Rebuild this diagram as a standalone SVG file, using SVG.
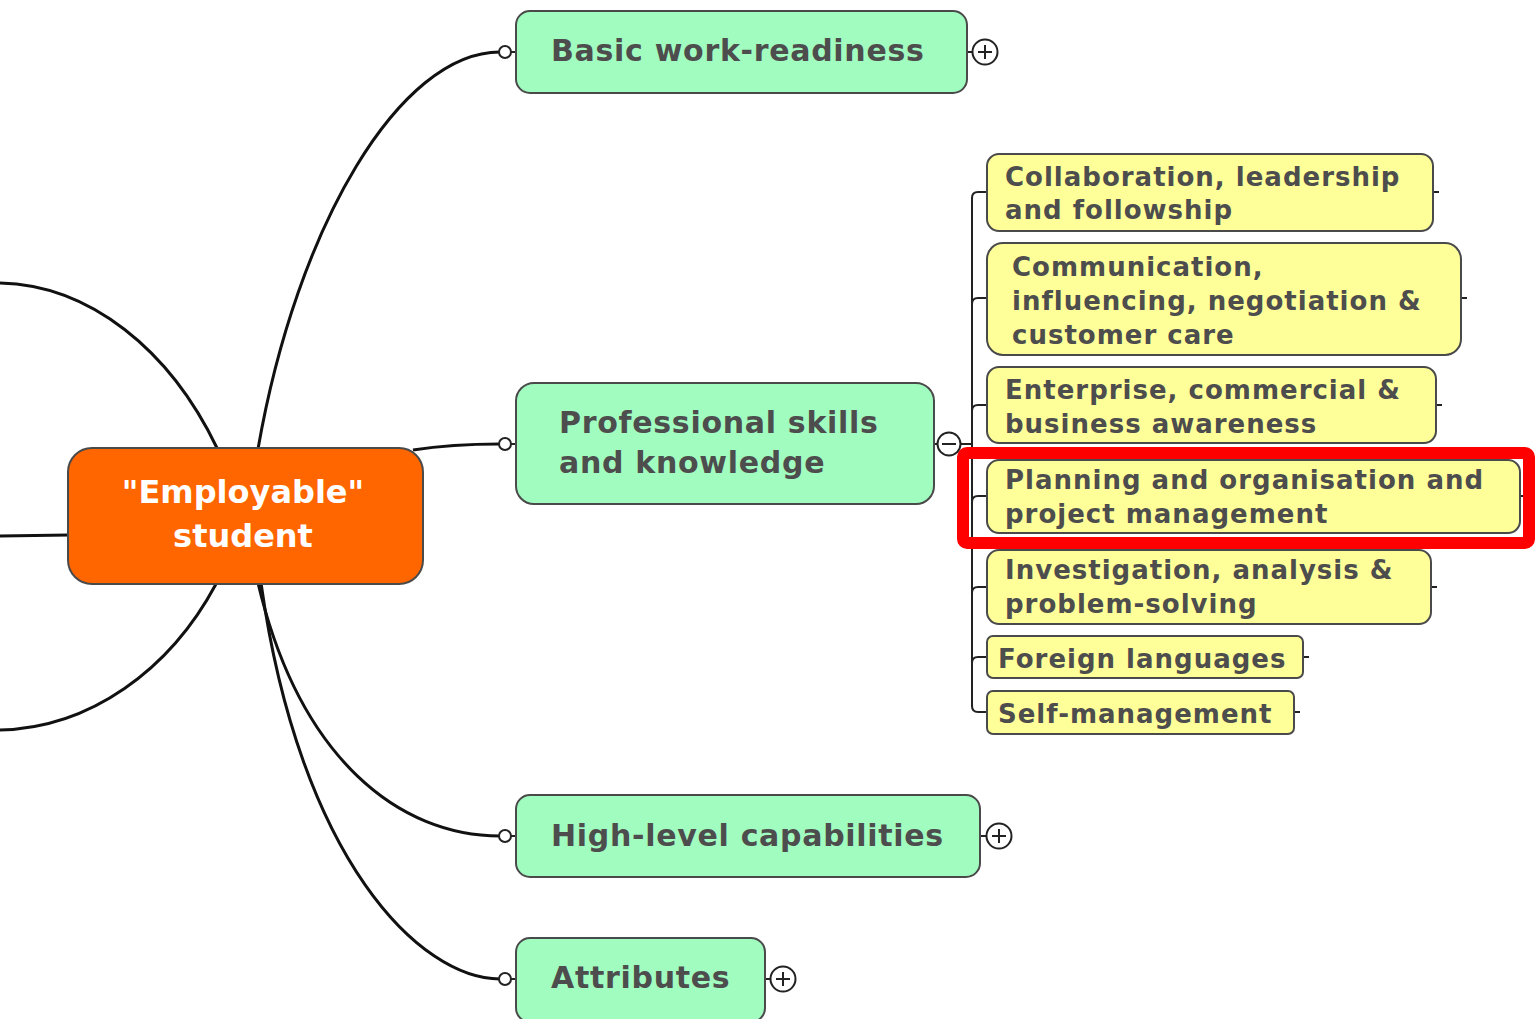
<svg xmlns="http://www.w3.org/2000/svg" width="1536" height="1019" viewBox="0 0 1536 1019">
<style>
.t{font-family:"DejaVu Sans","Verdana",sans-serif;font-weight:bold;fill:#4d4d4d}
.g{fill:#a1fcc0;stroke:#4a4a4a;stroke-width:2}
.y{fill:#ffff99;stroke:#4a4a4a;stroke-width:2}
.gt{font-size:30px;letter-spacing:0.7px}
.yt{font-size:26px;letter-spacing:1px}
.c{fill:none;stroke:#111;stroke-width:3}
.thin{fill:none;stroke:#222;stroke-width:2}
.o{fill:#fff;stroke:#222;stroke-width:2}
</style>
<rect width="1536" height="1019" fill="#fff"/>
<g id="connectors">
<path class="c" d="M258,449 C297,225 400,52 500,52"/>
<path class="c" d="M413,450 C445,445 470,444 500,444"/>
<path class="c" d="M258,583 C300,760 400,836 500,836"/>
<path class="c" d="M261,583 C300,860 420,979 500,979"/>
<path class="c" d="M217,448 C170,350 90,285 0,283"/>
<path class="c" d="M69,535 L0,536"/>
<path class="c" d="M216,584 C170,670 90,728 0,730"/>
<path class="thin" d="M510,52 H516 M510,444 H516 M510,836 H516 M510,979 H516"/>
<path class="thin" d="M967,52 H973 M980,836 H987 M765,979 H771"/>
<path class="thin" d="M934,444 H938 M960,444 H972"/>
<path class="thin" d="M972,197 V707"/>
<path class="thin" d="M972,198 Q972,192 978,192 H987 M972,304 Q972,298 978,298 H987 M972,411 Q972,405 978,405 H987 M972,502 Q972,496 978,496 H987 M972,593 Q972,587 978,587 H987 M972,663 Q972,657 978,657 H987 M972,706 Q972,712 978,712 H987"/>
<path class="thin" d="M1433,192 H1439 M1461,298 H1467 M1436,405 H1442 M1520,496 H1526 M1431,587 H1437 M1303,657 H1309 M1294,712 H1300"/>
<circle class="o" cx="505" cy="52" r="6"/>
<circle class="o" cx="505" cy="444" r="6"/>
<circle class="o" cx="505" cy="836" r="6"/>
<circle class="o" cx="505" cy="979" r="6"/>
</g>
<g id="central">
<rect x="68" y="448" width="355" height="136" rx="24" fill="#ff6600" stroke="#4a4a4a" stroke-width="2"/>
<text class="t" x="243" y="503" text-anchor="middle" font-size="32" style="fill:#fff">"Employable"</text>
<text class="t" x="243" y="547" text-anchor="middle" font-size="32" style="fill:#fff">student</text>
</g>
<g id="basic">
<rect class="g" x="516" y="11" width="451" height="82" rx="14"/>
<text class="t gt" x="551" y="61">Basic work-readiness</text>
<circle class="o" cx="985" cy="52" r="12.5"/>
<path class="thin" d="M978,52 H992 M985,45 V59"/>
</g>
<g id="professional">
<rect class="g" x="516" y="383" width="418" height="121" rx="18"/>
<text class="t gt" x="559" y="433">Professional skills</text>
<text class="t gt" x="559" y="473">and knowledge</text>
<circle class="o" cx="949" cy="444" r="11.5"/>
<path class="thin" d="M942,444 H956"/>
</g>
<g id="high">
<rect class="g" x="516" y="795" width="464" height="82" rx="14"/>
<text class="t gt" x="551" y="846">High-level capabilities</text>
<circle class="o" cx="999" cy="836" r="12.5"/>
<path class="thin" d="M992,836 H1006 M999,829 V843"/>
</g>
<g id="attributes">
<rect class="g" x="516" y="938" width="249" height="84" rx="14"/>
<text class="t gt" x="551" y="988">Attributes</text>
<circle class="o" cx="783" cy="979" r="12.5"/>
<path class="thin" d="M776,979 H790 M783,972 V986"/>
</g>
<g id="collab">
<rect class="y" x="987" y="154" width="446" height="77" rx="12"/>
<text class="t yt" x="1005" y="186">Collaboration, leadership</text>
<text class="t yt" x="1005" y="219">and followship</text>
</g>
<g id="communication">
<rect class="y" x="987" y="243" width="474" height="112" rx="16"/>
<text class="t yt" x="1012" y="276">Communication,</text>
<text class="t yt" x="1012" y="310">influencing, negotiation &amp;</text>
<text class="t yt" x="1012" y="344">customer care</text>
</g>
<g id="enterprise">
<rect class="y" x="987" y="367" width="449" height="76" rx="12"/>
<text class="t yt" x="1005" y="399">Enterprise, commercial &amp;</text>
<text class="t yt" x="1005" y="433">business awareness</text>
</g>
<g id="planning">
<rect class="y" x="987" y="460" width="533" height="73" rx="12"/>
<text class="t yt" x="1005" y="489">Planning and organisation and</text>
<text class="t yt" x="1005" y="523">project management</text>
</g>
<g id="investigation">
<rect class="y" x="987" y="550" width="444" height="74" rx="12"/>
<text class="t yt" x="1005" y="579">Investigation, analysis &amp;</text>
<text class="t yt" x="1005" y="613">problem-solving</text>
</g>
<g id="foreign">
<rect class="y" x="987" y="636" width="316" height="42" rx="6"/>
<text class="t yt" x="998" y="668">Foreign languages</text>
</g>
<g id="self">
<rect class="y" x="987" y="691" width="307" height="43" rx="6"/>
<text class="t yt" x="998" y="723">Self-management</text>
</g>
<g id="highlight">
<rect x="963" y="453" width="566" height="90" rx="4" fill="none" stroke="#ff0000" stroke-width="12"/>
</g>
</svg>
